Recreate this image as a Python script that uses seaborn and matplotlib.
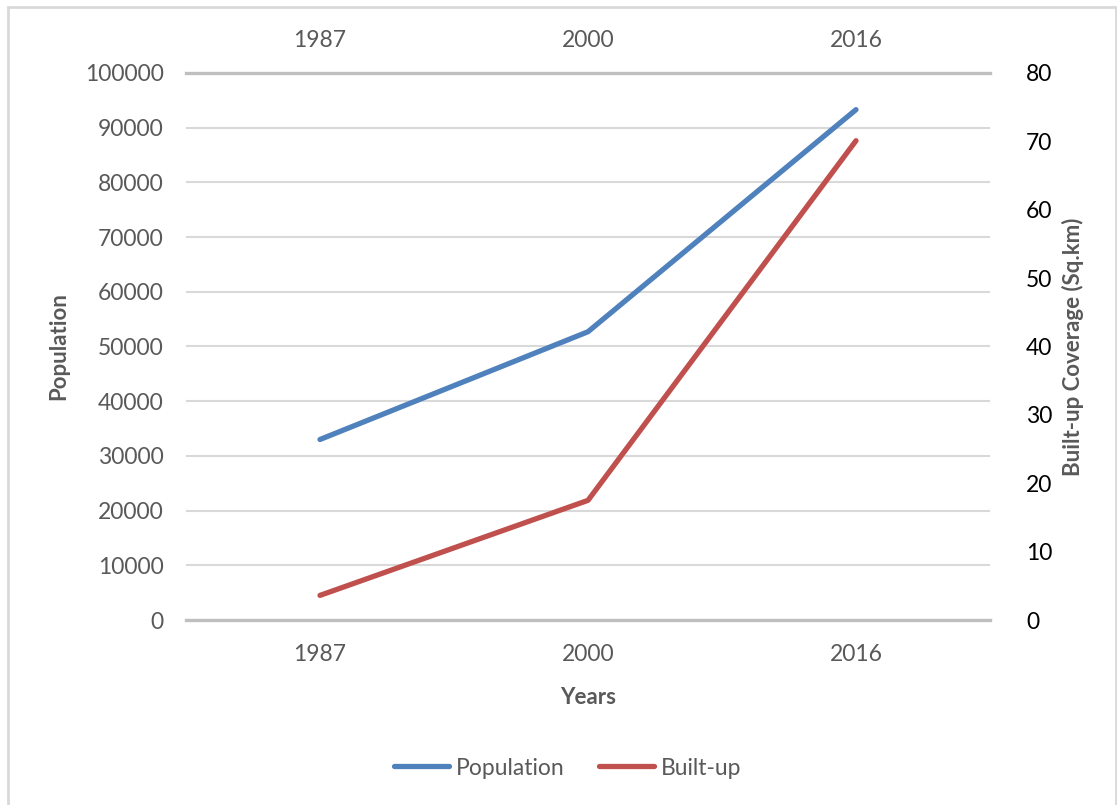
import matplotlib
matplotlib.use("Agg")
import matplotlib.pyplot as plt
from matplotlib.patches import Rectangle
from matplotlib.lines import Line2D
import seaborn as sns
import pandas as pd

# Data
years = ["1987", "2000", "2016"]
population = [33000, 52700, 93300]
built_up = [3.6, 17.5, 70.1]

sns.set_theme(style="white")
plt.rcParams["font.family"] = ["Lato", "DejaVu Sans"]

BLUE = "#4F81BD"
RED = "#C0504D"
TXT = "#595959"
W, H = 1117, 805

df = pd.DataFrame({"Year": years, "Population": population, "Built-up": built_up})

fig = plt.figure(figsize=(W / 100, H / 100), dpi=100)
ax = fig.add_axes([186 / W, 1 - 620 / H, (990 - 186) / W, (620 - 73) / H])
ax2 = ax.twinx()

sns.lineplot(data=df, x="Year", y="Population", ax=ax, color=BLUE, lw=3.8,
             solid_capstyle="round", legend=False, sort=False)
sns.lineplot(data=df, x="Year", y="Built-up", ax=ax2, color=RED, lw=3.8,
             solid_capstyle="round", legend=False, sort=False)

ax.set_xlim(-0.5, 2.5)
ax.set_ylim(0, 100000)
ax2.set_ylim(0, 80)
ax.set_yticks(range(0, 100001, 10000))
ax2.set_yticks(range(0, 81, 10))

# Gridlines and axis lines
ax.yaxis.grid(True, color="#D9D9D9", lw=1.5)
ax.xaxis.grid(False)
ax2.grid(False)
ax.set_axisbelow(True)
for s in ["left", "right"]:
    ax.spines[s].set_visible(False)
for s in ["top", "bottom"]:
    ax.spines[s].set_color("#BFBFBF")
    ax.spines[s].set_linewidth(2.4)
for s in ax2.spines.values():
    s.set_visible(False)

ax.tick_params(axis="x", which="both", length=0, labelsize=16.5, colors=TXT,
               labeltop=False, labelbottom=True, pad=17)
ax.tick_params(axis="y", length=0, labelsize=16.5, colors=TXT, pad=16)
ax2.tick_params(axis="y", length=0, labelsize=16.5, colors="#000000", pad=26)
ax2.tick_params(axis="x", length=0, labelbottom=False, labeltop=False)

# Year labels repeated along the top edge
top = ax.secondary_xaxis("top")
top.set_xticks(range(len(years)), labels=years)
top.tick_params(length=0, labelsize=16.5, colors=TXT, pad=16)
top.spines["top"].set_visible(False)

ax.set_xlabel("Years", fontsize=16, fontweight="bold", color=TXT, labelpad=16)
ax.set_ylabel("Population", fontsize=16, fontweight="bold", color=TXT, labelpad=11)
ax2.set_ylabel("Built-up Coverage (Sq.km)", fontsize=16, fontweight="bold",
               color=TXT, labelpad=7)

# Legend below the chart
handles = [Line2D([], [], color=BLUE, lw=3.8, solid_capstyle="round"),
           Line2D([], [], color=RED, lw=3.8, solid_capstyle="round")]
leg = fig.legend(handles, ["Population", "Built-up"], loc="center",
                 bbox_to_anchor=(0.508, 1 - 768 / H), ncol=2, frameon=False,
                 fontsize=16.5, handlelength=2.4, handletextpad=0.3,
                 columnspacing=1.5)
for t in leg.get_texts():
    t.set_color(TXT)

# Chart area frame
fig.patches.append(Rectangle((8 / W, -0.02), (1116 - 8) / W, 1 - 7 / H + 0.02,
                             transform=fig.transFigure, fill=False,
                             edgecolor="#D9D9D9", lw=2))

fig.savefig("out.png", dpi=100)
